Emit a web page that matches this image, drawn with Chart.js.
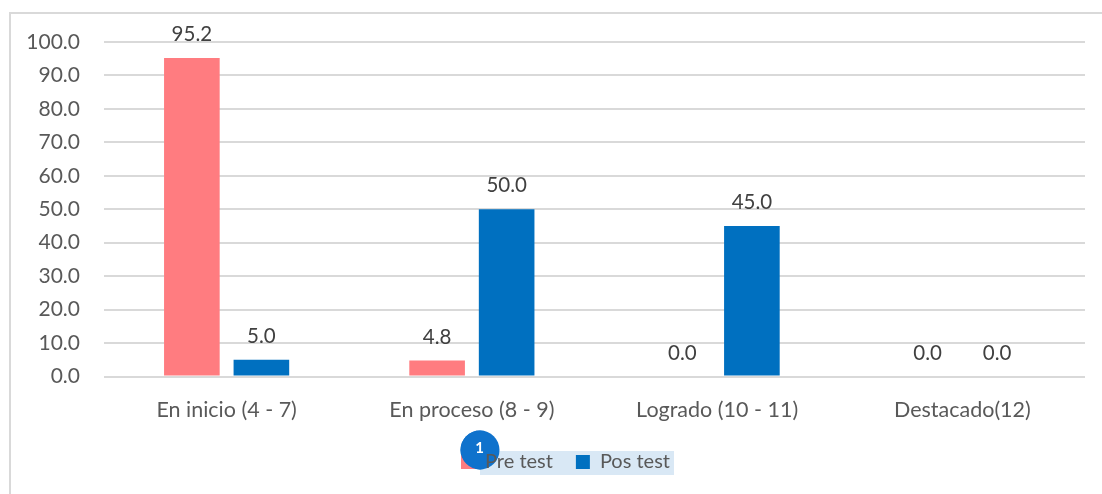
<!DOCTYPE html>
<html><head><meta charset="utf-8">
<style>html,body{margin:0;padding:0;background:#fff}#w{width:1102px;height:494px}</style>
<script src="https://cdn.jsdelivr.net/npm/chart.js@4"></script></head>
<body><div id="w"><canvas id="c" width="1102" height="494"></canvas></div>
<script>
const categories=["En inicio (4 - 7)","En proceso (8 - 9)","Logrado (10 - 11)","Destacado(12)"];
const preTest=[95.2,4.8,0.0,0.0];
const posTest=[5.0,50.0,45.0,0.0];
const seriesNames=["Pre test","Pos test"];
const FONT='Lato, "Open Sans", sans-serif';
function badge(x){x.fillStyle='#0f72cc';x.beginPath();x.arc(480,450,19.5,0,Math.PI*2);x.fill();}
const decor={id:'decor',
 afterLayout(ch){const l=ch.legend;l.left+=23;l.right+=23;l.top=429;l.bottom=482;},
 beforeDraw(ch){const x=ch.ctx;x.save();
  x.fillStyle='#d9d9d9';x.fillRect(9,12,1093,2);x.fillRect(9,12,2,482);
  x.fillStyle='#d9e8f5';x.fillRect(480,451,194,24);badge(x);x.restore();},
 afterDatasetsDraw(ch){const x=ch.ctx;x.save();x.font='20.5px '+FONT;x.fillStyle='#404040';
  x.textAlign='center';x.textBaseline='middle';
  ch.data.datasets.forEach((d,i)=>ch.getDatasetMeta(i).data.forEach((b,j)=>{
   x.fillText(d.data[j].toFixed(1),b.x,b.y-23.5);}));x.restore();},
 afterDraw(ch){const x=ch.ctx;x.save();x.beginPath();x.rect(455,425,29,50);x.clip();badge(x);x.restore();
  x.save();x.fillStyle='#fff';x.font='bold 15px '+FONT;x.textAlign='center';x.textBaseline='middle';x.fillText('1',479.5,448);x.restore();}
};
new Chart(document.getElementById('c'),{type:'bar',
 data:{labels:categories,datasets:[
  {label:seriesNames[0],data:preTest,backgroundColor:'#ff7c80',categoryPercentage:0.567,barPercentage:0.8},
  {label:seriesNames[1],data:posTest,backgroundColor:'#0070c0',categoryPercentage:0.567,barPercentage:0.8}]},
 plugins:[decor],
 options:{responsive:false,animation:false,
  layout:{padding:{left:0,right:17,top:42,bottom:0}},
  scales:{
   x:{grid:{display:false},border:{display:false},
      ticks:{color:'#595959',font:{family:FONT,size:21.5},padding:13,maxRotation:0},
      afterFit(s){s.height=64.5;}},
   y:{min:0,max:100,grid:{color:'#d9d9d9',lineWidth:2,drawTicks:false},border:{display:false},
      ticks:{stepSize:10,color:'#595959',font:{family:FONT,size:21},padding:24,callback:v=>v.toFixed(1)},
      afterFit(s){s.width=104;}}},
  plugins:{tooltip:{enabled:false},
   legend:{display:true,position:'bottom',
    labels:{boxWidth:14,boxHeight:14,color:'#595959',font:{family:FONT,size:20},padding:23}}}}
});
</script></body></html>
